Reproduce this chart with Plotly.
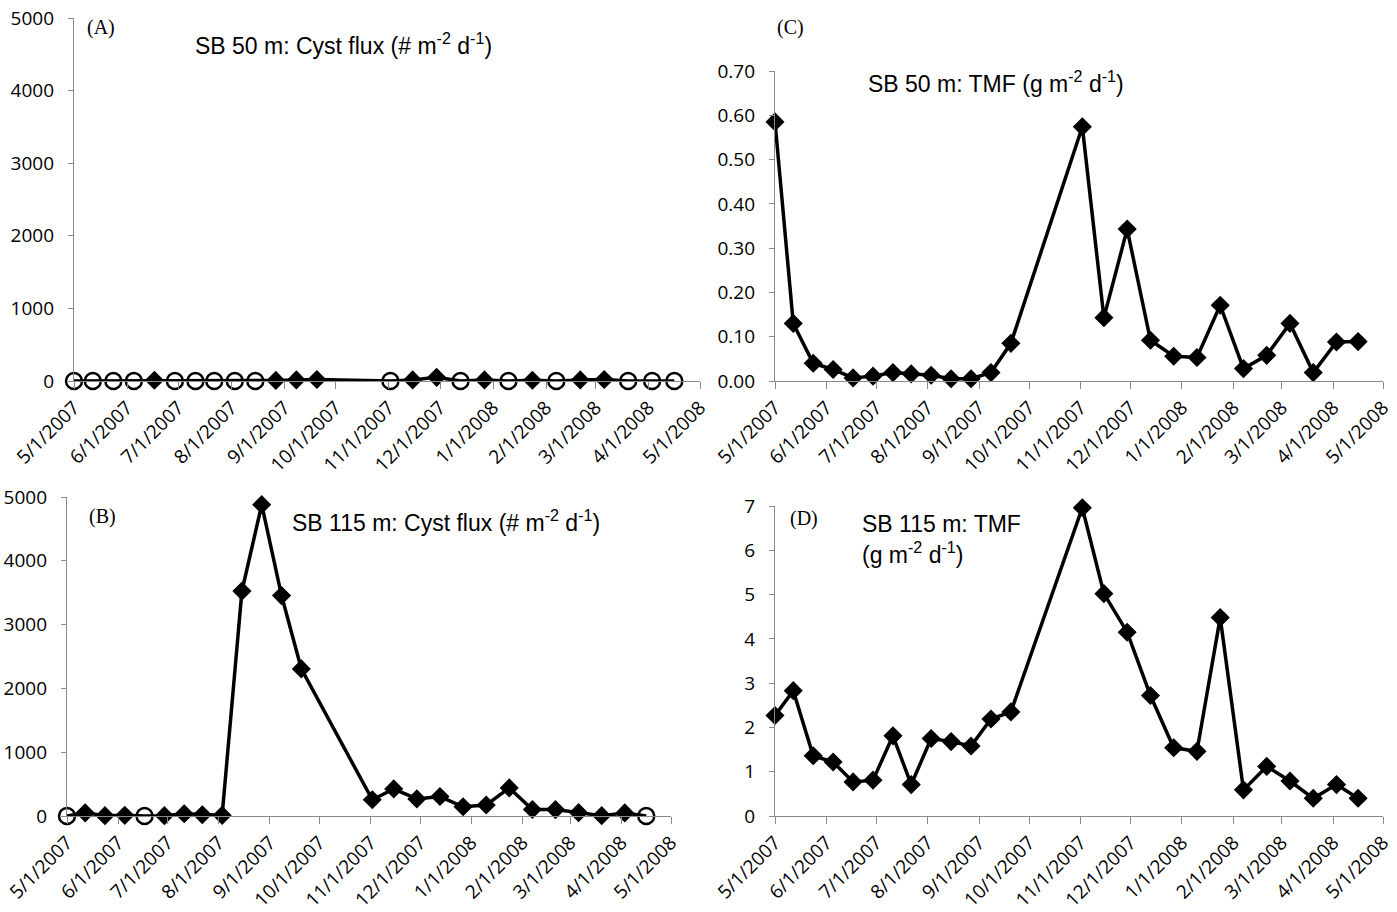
import plotly.graph_objects as go

dates = ["2007-05-01", "2007-05-12", "2007-05-24", "2007-06-05", "2007-06-17",
         "2007-06-29", "2007-07-11", "2007-07-22", "2007-08-03", "2007-08-15",
         "2007-08-27", "2007-09-08", "2007-09-20", "2007-11-02", "2007-11-15",
         "2007-11-29", "2007-12-13", "2007-12-27", "2008-01-10", "2008-01-24",
         "2008-02-07", "2008-02-21", "2008-03-06", "2008-03-20", "2008-04-03",
         "2008-04-16"]

# cyst flux (# m-2 d-1); 0 = none detected (open circle)
cyst_50 = [0, 0, 0, 0, 10, 0, 0, 0, 0, 0, 8, 15, 20, 0, 15, 50, 0, 15, 0, 10,
           0, 15, 20, 0, 0, 0]
cyst_115 = [0, 50, 5, 10, 0, 5, 35, 20, 10, 3525, 4880, 3455, 2305, 255, 425,
            268, 305, 145, 172, 440, 102, 100, 52, 5, 48, 0]
# total mass flux (g m-2 d-1)
tmf_50 = [0.585, 0.130, 0.040, 0.026, 0.007, 0.011, 0.019, 0.016, 0.013, 0.005,
          0.005, 0.019, 0.085, 0.574, 0.143, 0.343, 0.092, 0.056, 0.053, 0.171,
          0.028, 0.058, 0.130, 0.019, 0.088, 0.089]
tmf_115 = [2.27, 2.83, 1.36, 1.22, 0.77, 0.81, 1.81, 0.71, 1.75, 1.68, 1.58,
           2.19, 2.35, 6.96, 5.02, 4.15, 2.72, 1.54, 1.46, 4.48, 0.59, 1.12,
           0.79, 0.40, 0.71, 0.40]

W, H = 1397, 912
AX = "#8a8a8a"
TICKFONT = dict(family="Open Sans, DejaVu Sans", size=19, color="black")


def px(x):
    return x / W


def py(y):
    return 1 - y / H


def symbols(vals):
    return ["circle-open" if v == 0 else "diamond" for v in vals]


def sizes(vals):
    return [16 if v == 0 else 12 for v in vals]


fig = go.Figure()

panels = [
    ("x", "y", cyst_50, True),
    ("x2", "y2", tmf_50, False),
    ("x3", "y3", cyst_115, True),
    ("x4", "y4", tmf_115, False),
]
for xa, ya, vals, cyst in panels:
    fig.add_trace(go.Scatter(
        x=dates, y=vals, xaxis=xa, yaxis=ya, mode="lines+markers",
        line=dict(color="black", width=3.5),
        marker=dict(symbol=symbols(vals) if cyst else "diamond",
                    size=sizes(vals) if cyst else 12, opacity=1,
                    color="black", line=dict(color="black", width=2.5)),
        cliponaxis=False, showlegend=False))


def xaxis(x0, x1, anchor):
    return dict(domain=[px(x0), px(x1)], anchor=anchor, type="date",
                range=["2007-05-01", "2008-05-01"], tick0="2007-05-01",
                dtick="M1", tickformat="%-m/%-d/%Y", tickangle=-45,
                showline=True, linecolor=AX, linewidth=1.3,
                ticks="outside", ticklen=7, tickcolor=AX, tickwidth=1.3,
                showgrid=False, zeroline=False, tickfont=TICKFONT,
                automargin=False)


def yaxis(ytop, ybot, anchor, rng, dtick, fmt):
    return dict(domain=[py(ybot), py(ytop)], anchor=anchor, range=rng,
                dtick=dtick, tickformat=fmt, showline=True, linecolor=AX,
                linewidth=1.3, ticks="outside", ticklen=5, tickcolor=AX,
                ticklabelstandoff=10,
                showgrid=False, zeroline=False, tickfont=TICKFONT,
                automargin=False)


fig.update_layout(
    width=W, height=H, margin=dict(l=0, r=0, t=0, b=0, autoexpand=False),
    paper_bgcolor="white", plot_bgcolor="white",
    xaxis=xaxis(74, 700, "y"),
    yaxis=yaxis(18, 381, "x", [0, 5000], 1000, "d"),
    xaxis2=xaxis(775, 1383, "y2"),
    yaxis2=yaxis(71, 381, "x2", [0, 0.70], 0.1, ".2f"),
    xaxis3=xaxis(67, 671, "y3"),
    yaxis3=yaxis(497, 816, "x3", [0, 5000], 1000, "d"),
    xaxis4=xaxis(775, 1383, "y4"),
    yaxis4=yaxis(506, 816, "x4", [0, 7], 1, "d"),
)

TFONT = dict(family="Liberation Sans, Arial", size=23, color="black")
LFONT = dict(family="Liberation Serif, Times New Roman", size=20, color="black")
texts = [
    (85, 28, "(A)", LFONT),
    (87, 516, "(B)", LFONT),
    (775, 28, "(C)", LFONT),
    (788, 518, "(D)", LFONT),
    (193, 44, "SB 50 m: Cyst flux (# m<sup>-2</sup> d<sup>-1</sup>)", TFONT),
    (290, 521, "SB 115 m: Cyst flux (# m<sup>-2</sup> d<sup>-1</sup>)", TFONT),
    (866, 82, "SB 50 m: TMF (g m<sup>-2</sup> d<sup>-1</sup>)", TFONT),
    (860, 524, "SB 115 m: TMF", TFONT),
    (860, 553, "(g m<sup>-2</sup> d<sup>-1</sup>)", TFONT),
]
for x, y, t, f in texts:
    fig.add_annotation(x=px(x), y=py(y), xref="paper", yref="paper",
                       xanchor="left", yanchor="middle", text=t,
                       showarrow=False, font=f)

fig.write_html("out.html")
